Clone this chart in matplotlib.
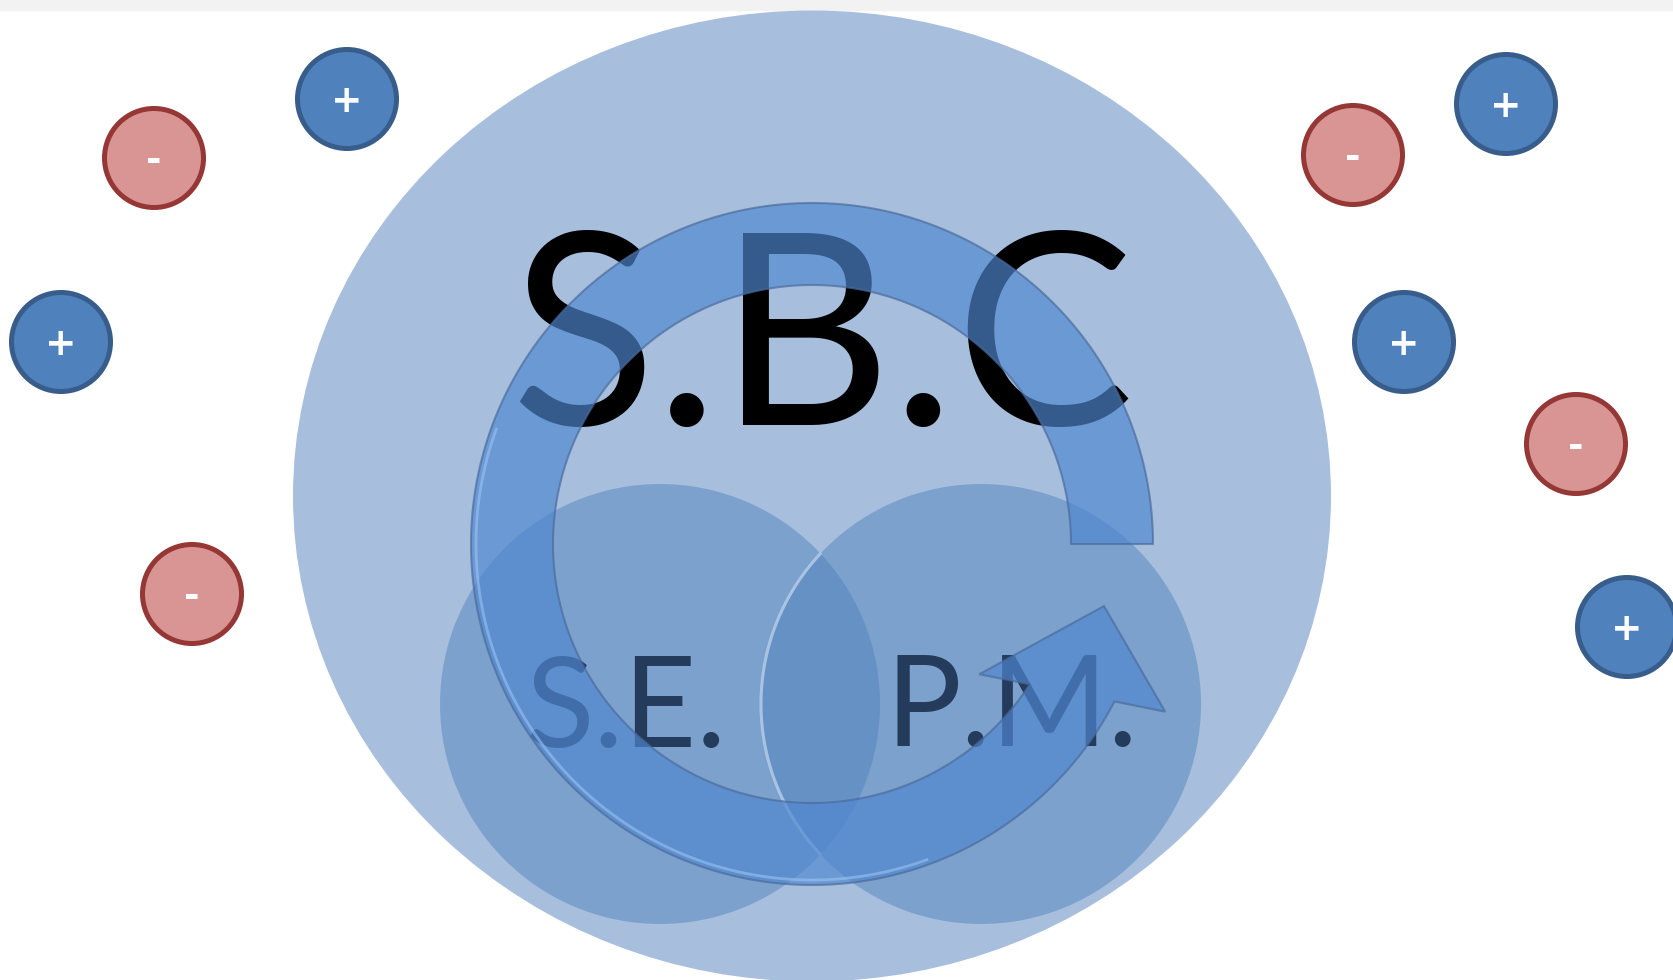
import numpy as np
import matplotlib
matplotlib.use('Agg')
import matplotlib.pyplot as plt
from matplotlib.patches import Ellipse, Circle, Polygon, Rectangle

# canvas in pixels
W, H = 1673, 980

# charges: (x, y, sign)
charge_x = [154, 347, 61, 192, 1353, 1506, 1404, 1576, 1627]
charge_y = [158, 99, 342, 594, 155, 104, 342, 444, 627]
charge_sign = ['-', '+', '+', '-', '-', '+', '+', '-', '+']
charge_r = 52

# big ellipse
big_center = (812, 496)
big_size = (1038, 971)

# venn circles
venn_x = [660, 981]
venn_y = [704, 704]
venn_r = 220
venn_labels = ['S.E.', 'P.M.']
label_x = [626, 1012]
label_y = [747, 746]

# circular arrow (polar, degrees ccw from +x)
ring_c = (812, 544)
ring_out, ring_in = 341, 259
shaft_end_out, shaft_end_in = 332.5, 327.2
head_pts = [(391, 334.6), (298.5, 348.0), (212, 322.1)]  # (r, angle)

title = 'S.B.C'

fig = plt.figure(figsize=(W / 100, H / 100), dpi=100)
ax = fig.add_axes([0, 0, 1, 1])
ax.set_xlim(0, W)
ax.set_ylim(H, 0)
ax.axis('off')

ax.add_patch(Rectangle((0, 0), W, 10, color='#f2f2f2', zorder=0))

ax.add_patch(Ellipse(big_center, *big_size, color='#a7bfdd', lw=0, zorder=1))

for x, y in zip(venn_x, venn_y):
    ax.add_patch(Circle((x, y), venn_r, color='#4f81bd', alpha=0.48, lw=0, zorder=2))

# light rim of right circle inside the left one
t = np.radians(np.linspace(137, 223, 100))
ax.plot(venn_x[1] + venn_r * np.cos(t), venn_y[1] - venn_r * np.sin(t),
        color='#b4cbe8', lw=2.2, alpha=0.85, zorder=2.5)

ax.text(822, 425, title, fontsize=193, family='Lato', color='black',
        ha='center', va='baseline', zorder=3)
for lab, x, y in zip(venn_labels, label_x, label_y):
    ax.text(x, y, lab, fontsize=91, family='Lato', color='#243b5c',
            ha='center', va='baseline', zorder=3)


def polar(r, a):
    a = np.radians(a)
    return ring_c[0] + r * np.cos(a), ring_c[1] - r * np.sin(a)


outer = [polar(ring_out, a) for a in np.linspace(0, shaft_end_out, 300)]
head = [polar(r, a) for r, a in head_pts]
inner = [polar(ring_in, a) for a in np.linspace(shaft_end_in, 0, 300)]
ax.add_patch(Polygon(outer + head + inner, closed=True, facecolor='#4f87d1',
                     alpha=0.68, edgecolor='#4a6a9a', lw=1.5, zorder=4))
# soft highlight along the outer rim, lower left
hl = np.array([polar(ring_out - 5, a) for a in np.linspace(160, 290, 100)])
ax.plot(hl[:, 0], hl[:, 1], color='#9cc2f0', lw=2, alpha=0.6, zorder=4.5)

for x, y, s in zip(charge_x, charge_y, charge_sign):
    if s == '+':
        fc, ec = '#4f81bd', '#385d8a'
    else:
        fc, ec = '#d99594', '#953735'
    ax.add_patch(Circle((x, y), charge_r - 2.5, facecolor=fc, edgecolor=ec,
                        lw=3.6, zorder=5))
    ax.text(x, y + 3, s, fontsize=27, color='white', weight='bold',
            family='DejaVu Sans', ha='center', va='center', zorder=6)

plt.savefig('out.png', dpi=100)
